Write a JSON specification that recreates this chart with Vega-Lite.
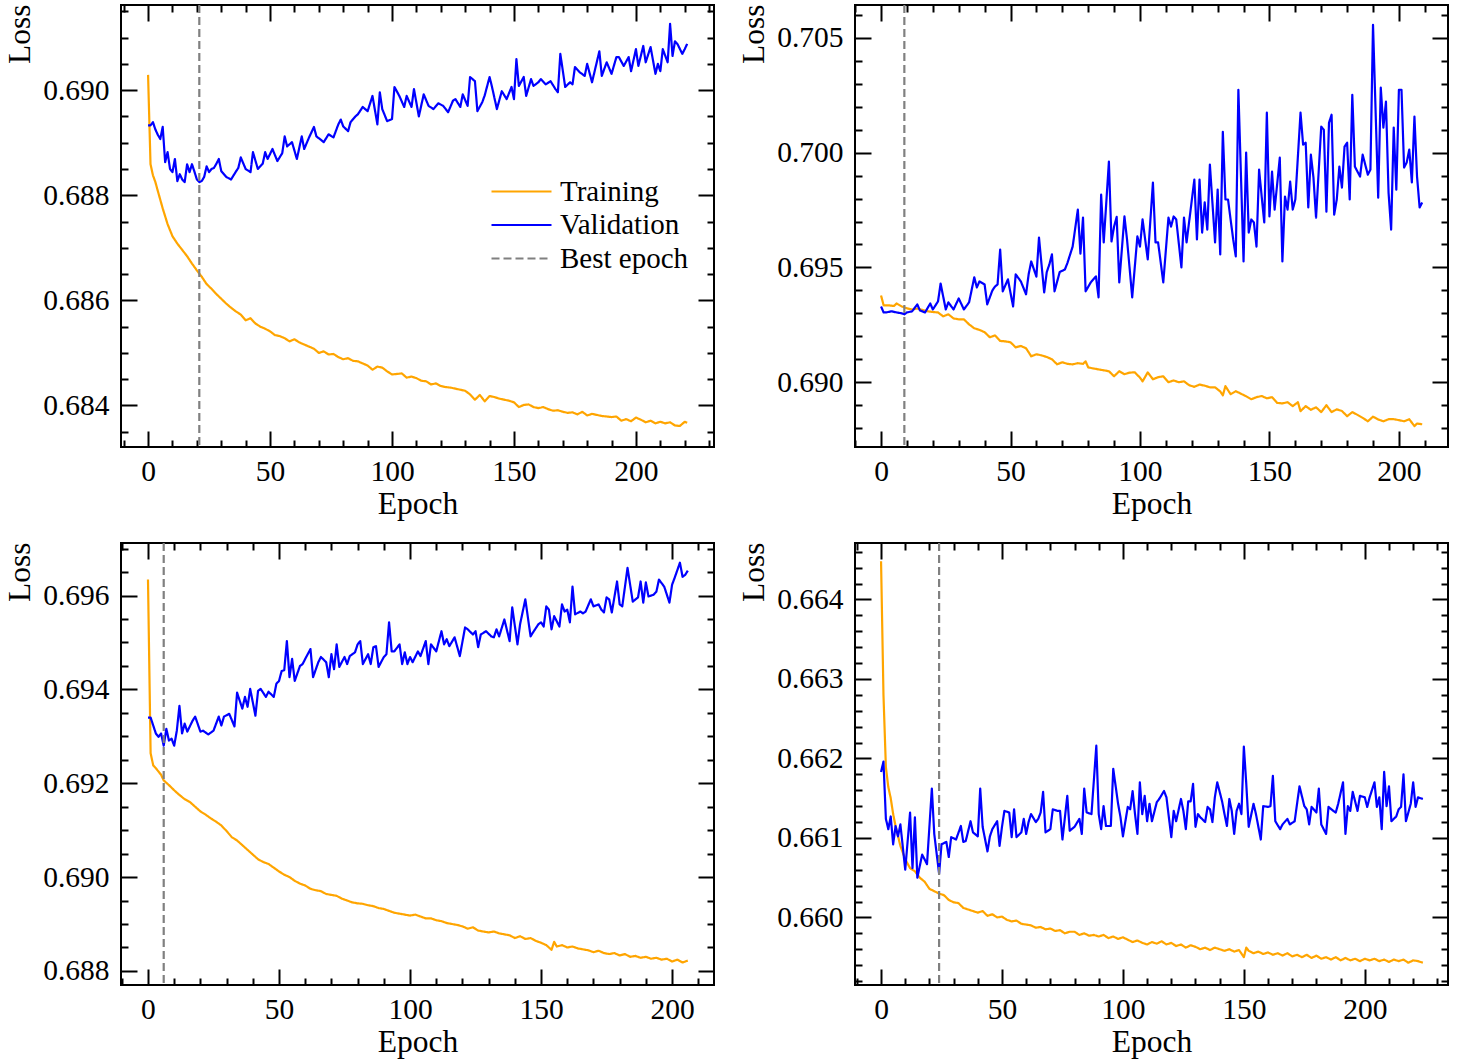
{
"$schema": "https://vega.github.io/schema/vega-lite/v6.json",
"background": "white",
"padding": {"left": 2, "top": 2, "right": 15, "bottom": 2},
"config": {
 "font": "Liberation Serif",
 "view": {"stroke": "black", "strokeWidth": 2},
 "axis": {"labelFont": "Liberation Serif", "labelFontSize": 29.5, "labelColor": "black", "titleFont": "Liberation Serif", "titleFontSize": 31.5, "titleFontWeight": "normal", "titleColor": "black", "tickColor": "black", "tickWidth": 2, "domain": false, "grid": false, "labelOverlap": false, "labelFlush": false, "labelBound": false},
 "legend": {"labelFont": "Liberation Serif", "labelFontSize": 29, "labelColor": "black"}
},
"datasets": {
"p1t": [{"e":0,"v":0.69029},{"e":1,"v":0.68859},{"e":2,"v":0.68838},{"e":3,"v":0.68825},{"e":4,"v":0.68808},{"e":6,"v":0.68775},{"e":8,"v":0.68745},{"e":10,"v":0.68722},{"e":12,"v":0.68708},{"e":14,"v":0.68696},{"e":16,"v":0.68684},{"e":18,"v":0.6867},{"e":20,"v":0.68657},{"e":22,"v":0.68645},{"e":24,"v":0.68631},{"e":26,"v":0.68622},{"e":28,"v":0.68612},{"e":30,"v":0.68603},{"e":32,"v":0.68594},{"e":34,"v":0.68586},{"e":36,"v":0.68579},{"e":38,"v":0.68573},{"e":40,"v":0.68562},{"e":42,"v":0.68566},{"e":44,"v":0.68556},{"e":46,"v":0.6855},{"e":48,"v":0.68546},{"e":50,"v":0.68541},{"e":52,"v":0.68534},{"e":54,"v":0.68532},{"e":56,"v":0.68528},{"e":58,"v":0.68522},{"e":60,"v":0.68526},{"e":62,"v":0.6852},{"e":64,"v":0.68516},{"e":66,"v":0.68512},{"e":68,"v":0.68508},{"e":70,"v":0.685},{"e":72,"v":0.68503},{"e":74,"v":0.68497},{"e":76,"v":0.68498},{"e":78,"v":0.68492},{"e":80,"v":0.68488},{"e":82,"v":0.6849},{"e":84,"v":0.68485},{"e":86,"v":0.68484},{"e":88,"v":0.6848},{"e":90,"v":0.68476},{"e":92,"v":0.68468},{"e":94,"v":0.68474},{"e":96,"v":0.68472},{"e":98,"v":0.68465},{"e":100,"v":0.68459},{"e":102,"v":0.6846},{"e":104,"v":0.68461},{"e":106,"v":0.68453},{"e":108,"v":0.68455},{"e":110,"v":0.68452},{"e":112,"v":0.68447},{"e":114,"v":0.68446},{"e":116,"v":0.6844},{"e":118,"v":0.68442},{"e":120,"v":0.68437},{"e":122,"v":0.68435},{"e":124,"v":0.68434},{"e":126,"v":0.68432},{"e":128,"v":0.6843},{"e":130,"v":0.68428},{"e":132,"v":0.68421},{"e":134,"v":0.68411},{"e":136,"v":0.6842},{"e":138,"v":0.68408},{"e":140,"v":0.68418},{"e":142,"v":0.68416},{"e":144,"v":0.68413},{"e":146,"v":0.68411},{"e":148,"v":0.68409},{"e":150,"v":0.68406},{"e":152,"v":0.68397},{"e":154,"v":0.68401},{"e":156,"v":0.68402},{"e":158,"v":0.68397},{"e":160,"v":0.68395},{"e":162,"v":0.68397},{"e":164,"v":0.68393},{"e":166,"v":0.6839},{"e":168,"v":0.68391},{"e":170,"v":0.68388},{"e":172,"v":0.68386},{"e":174,"v":0.68387},{"e":176,"v":0.68383},{"e":178,"v":0.68388},{"e":180,"v":0.68381},{"e":182,"v":0.68384},{"e":184,"v":0.68382},{"e":186,"v":0.6838},{"e":188,"v":0.68379},{"e":190,"v":0.68378},{"e":192,"v":0.68379},{"e":194,"v":0.68371},{"e":196,"v":0.68374},{"e":198,"v":0.6837},{"e":200,"v":0.68377},{"e":202,"v":0.68373},{"e":204,"v":0.68368},{"e":206,"v":0.68371},{"e":208,"v":0.68366},{"e":210,"v":0.68369},{"e":212,"v":0.68366},{"e":214,"v":0.68368},{"e":216,"v":0.68362},{"e":218,"v":0.68361},{"e":220,"v":0.68369},{"e":221,"v":0.68367}],
"p1v": [{"e":0,"v":0.68933},{"e":1,"v":0.68933},{"e":2,"v":0.68939},{"e":3,"v":0.68925},{"e":4,"v":0.68915},{"e":5,"v":0.68907},{"e":6,"v":0.6893},{"e":7,"v":0.68863},{"e":8,"v":0.68882},{"e":9,"v":0.6885},{"e":10,"v":0.68844},{"e":11,"v":0.68869},{"e":12,"v":0.68827},{"e":13,"v":0.6884},{"e":14,"v":0.6883},{"e":15,"v":0.68825},{"e":16,"v":0.68859},{"e":17,"v":0.68844},{"e":18,"v":0.68859},{"e":19,"v":0.68845},{"e":20,"v":0.6883},{"e":21,"v":0.68825},{"e":22,"v":0.68827},{"e":23,"v":0.68835},{"e":24,"v":0.68855},{"e":25,"v":0.68844},{"e":26,"v":0.6885},{"e":27,"v":0.68852},{"e":28,"v":0.6886},{"e":29,"v":0.68869},{"e":30,"v":0.68846},{"e":32,"v":0.68835},{"e":34,"v":0.6883},{"e":36,"v":0.68845},{"e":37,"v":0.68852},{"e":38,"v":0.68872},{"e":40,"v":0.6885},{"e":42,"v":0.68844},{"e":43,"v":0.68882},{"e":45,"v":0.6885},{"e":47,"v":0.6886},{"e":48,"v":0.68882},{"e":49,"v":0.68869},{"e":51,"v":0.68888},{"e":53,"v":0.68865},{"e":55,"v":0.6888},{"e":56,"v":0.68912},{"e":57,"v":0.68893},{"e":59,"v":0.68901},{"e":61,"v":0.68869},{"e":63,"v":0.68912},{"e":64,"v":0.68888},{"e":66,"v":0.6891},{"e":67,"v":0.6892},{"e":68,"v":0.6893},{"e":69,"v":0.68912},{"e":71,"v":0.68905},{"e":72,"v":0.68901},{"e":74,"v":0.68916},{"e":76,"v":0.6891},{"e":78,"v":0.68935},{"e":79,"v":0.68944},{"e":80,"v":0.68931},{"e":82,"v":0.68922},{"e":83,"v":0.68939},{"e":85,"v":0.6895},{"e":86,"v":0.68954},{"e":88,"v":0.68968},{"e":90,"v":0.6896},{"e":92,"v":0.68989},{"e":94,"v":0.68935},{"e":95,"v":0.68996},{"e":96,"v":0.68964},{"e":98,"v":0.68941},{"e":100,"v":0.68945},{"e":101,"v":0.69006},{"e":103,"v":0.68989},{"e":105,"v":0.68968},{"e":106,"v":0.68989},{"e":108,"v":0.68968},{"e":109,"v":0.69002},{"e":111,"v":0.6895},{"e":113,"v":0.68992},{"e":115,"v":0.6897},{"e":117,"v":0.68964},{"e":119,"v":0.68975},{"e":121,"v":0.6897},{"e":123,"v":0.68958},{"e":125,"v":0.6898},{"e":126,"v":0.68983},{"e":128,"v":0.68968},{"e":129,"v":0.68992},{"e":131,"v":0.6897},{"e":132,"v":0.69025},{"e":134,"v":0.69017},{"e":135,"v":0.6896},{"e":137,"v":0.68977},{"e":138,"v":0.6899},{"e":140,"v":0.69025},{"e":141,"v":0.69006},{"e":143,"v":0.68964},{"e":145,"v":0.68998},{"e":147,"v":0.68983},{"e":149,"v":0.69006},{"e":150,"v":0.68983},{"e":151,"v":0.69059},{"e":152,"v":0.69008},{"e":154,"v":0.69025},{"e":155,"v":0.68989},{"e":157,"v":0.69021},{"e":158,"v":0.69008},{"e":160,"v":0.69015},{"e":161,"v":0.69021},{"e":163,"v":0.69011},{"e":165,"v":0.69017},{"e":167,"v":0.69002},{"e":168,"v":0.68996},{"e":169,"v":0.69069},{"e":171,"v":0.69006},{"e":173,"v":0.69015},{"e":174,"v":0.69011},{"e":175,"v":0.69044},{"e":177,"v":0.69034},{"e":179,"v":0.69027},{"e":180,"v":0.6905},{"e":182,"v":0.69015},{"e":185,"v":0.69074},{"e":186,"v":0.69027},{"e":188,"v":0.69053},{"e":190,"v":0.69031},{"e":192,"v":0.69063},{"e":193,"v":0.69063},{"e":195,"v":0.69046},{"e":197,"v":0.69063},{"e":198,"v":0.69036},{"e":200,"v":0.69078},{"e":201,"v":0.69046},{"e":203,"v":0.69084},{"e":204,"v":0.69053},{"e":206,"v":0.69082},{"e":208,"v":0.69031},{"e":209,"v":0.6905},{"e":210,"v":0.69036},{"e":211,"v":0.69078},{"e":213,"v":0.69053},{"e":214,"v":0.69126},{"e":215,"v":0.69065},{"e":216,"v":0.69093},{"e":217,"v":0.69088},{"e":219,"v":0.69069},{"e":220,"v":0.69078},{"e":221,"v":0.69088}],
"p2t": [{"e":0,"v":0.69378},{"e":1,"v":0.69335},{"e":3,"v":0.69335},{"e":5,"v":0.69332},{"e":6,"v":0.69343},{"e":8,"v":0.6933},{"e":10,"v":0.69322},{"e":12,"v":0.69317},{"e":14,"v":0.69321},{"e":16,"v":0.69315},{"e":18,"v":0.69309},{"e":20,"v":0.69306},{"e":22,"v":0.69304},{"e":24,"v":0.69287},{"e":26,"v":0.69296},{"e":28,"v":0.69278},{"e":30,"v":0.69274},{"e":32,"v":0.69274},{"e":34,"v":0.69252},{"e":36,"v":0.69235},{"e":38,"v":0.69228},{"e":40,"v":0.69218},{"e":42,"v":0.69196},{"e":44,"v":0.69204},{"e":46,"v":0.6918},{"e":48,"v":0.69178},{"e":50,"v":0.69174},{"e":52,"v":0.69152},{"e":54,"v":0.69158},{"e":56,"v":0.69148},{"e":58,"v":0.69113},{"e":60,"v":0.69122},{"e":62,"v":0.69117},{"e":64,"v":0.6911},{"e":66,"v":0.691},{"e":68,"v":0.69078},{"e":70,"v":0.69087},{"e":72,"v":0.6908},{"e":74,"v":0.69078},{"e":76,"v":0.69083},{"e":78,"v":0.6908},{"e":79,"v":0.69091},{"e":80,"v":0.69065},{"e":82,"v":0.6906},{"e":84,"v":0.69056},{"e":86,"v":0.69052},{"e":88,"v":0.69048},{"e":90,"v":0.69026},{"e":92,"v":0.69048},{"e":94,"v":0.69035},{"e":96,"v":0.69042},{"e":98,"v":0.69043},{"e":100,"v":0.6902},{"e":101,"v":0.69004},{"e":103,"v":0.69043},{"e":105,"v":0.69013},{"e":107,"v":0.69022},{"e":109,"v":0.69026},{"e":111,"v":0.69},{"e":113,"v":0.69008},{"e":115,"v":0.69},{"e":117,"v":0.69004},{"e":119,"v":0.68987},{"e":121,"v":0.6898},{"e":123,"v":0.6899},{"e":125,"v":0.68985},{"e":127,"v":0.68978},{"e":129,"v":0.68978},{"e":131,"v":0.6896},{"e":132,"v":0.68943},{"e":133,"v":0.68983},{"e":135,"v":0.68948},{"e":137,"v":0.68961},{"e":139,"v":0.6895},{"e":141,"v":0.68939},{"e":143,"v":0.68926},{"e":145,"v":0.68935},{"e":147,"v":0.6894},{"e":149,"v":0.6893},{"e":151,"v":0.68935},{"e":153,"v":0.6891},{"e":155,"v":0.68908},{"e":157,"v":0.68913},{"e":159,"v":0.68896},{"e":161,"v":0.68913},{"e":162,"v":0.68874},{"e":164,"v":0.68896},{"e":166,"v":0.6888},{"e":168,"v":0.68891},{"e":170,"v":0.6887},{"e":172,"v":0.689},{"e":174,"v":0.6887},{"e":176,"v":0.68882},{"e":178,"v":0.68875},{"e":180,"v":0.68852},{"e":182,"v":0.6887},{"e":184,"v":0.68858},{"e":186,"v":0.68845},{"e":188,"v":0.6883},{"e":190,"v":0.6885},{"e":192,"v":0.68838},{"e":194,"v":0.6883},{"e":196,"v":0.68839},{"e":198,"v":0.68839},{"e":200,"v":0.68835},{"e":202,"v":0.6883},{"e":204,"v":0.68839},{"e":206,"v":0.68809},{"e":207,"v":0.6882},{"e":209,"v":0.68817}],
"p2v": [{"e":0,"v":0.6933},{"e":1,"v":0.69304},{"e":2,"v":0.69304},{"e":4,"v":0.69309},{"e":6,"v":0.69304},{"e":8,"v":0.693},{"e":9,"v":0.69296},{"e":10,"v":0.69304},{"e":12,"v":0.69309},{"e":14,"v":0.69339},{"e":15,"v":0.69313},{"e":17,"v":0.69304},{"e":19,"v":0.69343},{"e":20,"v":0.69317},{"e":22,"v":0.69352},{"e":23,"v":0.6943},{"e":25,"v":0.69317},{"e":26,"v":0.69348},{"e":28,"v":0.69317},{"e":30,"v":0.69365},{"e":32,"v":0.69317},{"e":34,"v":0.69348},{"e":36,"v":0.69457},{"e":37,"v":0.69413},{"e":38,"v":0.69439},{"e":40,"v":0.69426},{"e":41,"v":0.69339},{"e":43,"v":0.694},{"e":44,"v":0.69417},{"e":45,"v":0.69426},{"e":46,"v":0.69578},{"e":47,"v":0.69396},{"e":49,"v":0.69448},{"e":51,"v":0.6933},{"e":52,"v":0.6947},{"e":54,"v":0.69439},{"e":56,"v":0.69383},{"e":57,"v":0.6947},{"e":58,"v":0.69526},{"e":60,"v":0.6946},{"e":61,"v":0.6963},{"e":63,"v":0.69391},{"e":64,"v":0.6948},{"e":65,"v":0.69513},{"e":66,"v":0.69557},{"e":67,"v":0.69396},{"e":69,"v":0.6948},{"e":71,"v":0.69491},{"e":72,"v":0.6952},{"e":74,"v":0.69591},{"e":76,"v":0.69752},{"e":77,"v":0.6956},{"e":78,"v":0.69717},{"e":79,"v":0.69396},{"e":81,"v":0.69435},{"e":83,"v":0.69461},{"e":84,"v":0.6937},{"e":85,"v":0.69817},{"e":86,"v":0.69609},{"e":88,"v":0.69961},{"e":89,"v":0.69613},{"e":90,"v":0.69678},{"e":91,"v":0.6972},{"e":92,"v":0.69435},{"e":94,"v":0.69722},{"e":95,"v":0.69622},{"e":97,"v":0.6937},{"e":99,"v":0.69635},{"e":100,"v":0.69591},{"e":101,"v":0.69709},{"e":103,"v":0.69535},{"e":105,"v":0.6987},{"e":106,"v":0.69609},{"e":107,"v":0.69609},{"e":109,"v":0.69435},{"e":111,"v":0.69717},{"e":112,"v":0.69678},{"e":113,"v":0.69722},{"e":114,"v":0.69709},{"e":116,"v":0.695},{"e":117,"v":0.69717},{"e":118,"v":0.69609},{"e":121,"v":0.69883},{"e":122,"v":0.69622},{"e":123,"v":0.69883},{"e":124,"v":0.69652},{"e":125,"v":0.69783},{"e":126,"v":0.69665},{"e":127,"v":0.69948},{"e":129,"v":0.69609},{"e":130,"v":0.69839},{"e":131,"v":0.69557},{"e":132,"v":0.70091},{"e":133,"v":0.69796},{"e":134,"v":0.69796},{"e":136,"v":0.69622},{"e":137,"v":0.69548},{"e":138,"v":0.70274},{"e":140,"v":0.69526},{"e":141,"v":0.7},{"e":142,"v":0.69652},{"e":143,"v":0.69709},{"e":144,"v":0.69696},{"e":145,"v":0.69591},{"e":146,"v":0.69926},{"e":147,"v":0.69809},{"e":148,"v":0.69696},{"e":149,"v":0.70174},{"e":150,"v":0.69722},{"e":151,"v":0.69917},{"e":152,"v":0.69752},{"e":154,"v":0.69978},{"e":155,"v":0.69526},{"e":156,"v":0.69809},{"e":157,"v":0.69752},{"e":158,"v":0.69874},{"e":159,"v":0.69752},{"e":160,"v":0.69796},{"e":162,"v":0.70174},{"e":163,"v":0.70035},{"e":164,"v":0.70043},{"e":165,"v":0.69761},{"e":166,"v":0.69991},{"e":167,"v":0.69891},{"e":168,"v":0.69717},{"e":170,"v":0.70113},{"e":171,"v":0.701},{"e":172,"v":0.69743},{"e":173,"v":0.7013},{"e":174,"v":0.70165},{"e":175,"v":0.6973},{"e":176,"v":0.69796},{"e":177,"v":0.69939},{"e":178,"v":0.69848},{"e":179,"v":0.70026},{"e":180,"v":0.70043},{"e":181,"v":0.69796},{"e":182,"v":0.70252},{"e":183,"v":0.69939},{"e":185,"v":0.69896},{"e":186,"v":0.69991},{"e":188,"v":0.69904},{"e":189,"v":0.69926},{"e":190,"v":0.70557},{"e":192,"v":0.69804},{"e":193,"v":0.70283},{"e":194,"v":0.70109},{"e":195,"v":0.70222},{"e":196,"v":0.69826},{"e":197,"v":0.69665},{"e":198,"v":0.70109},{"e":199,"v":0.69839},{"e":200,"v":0.70274},{"e":201,"v":0.70274},{"e":202,"v":0.69935},{"e":203,"v":0.69957},{"e":204,"v":0.70013},{"e":205,"v":0.6987},{"e":206,"v":0.70157},{"e":207,"v":0.69896},{"e":208,"v":0.69761},{"e":209,"v":0.69783}],
"p3t": [{"e":0,"v":0.69634},{"e":1,"v":0.69264},{"e":2,"v":0.69238},{"e":3,"v":0.69232},{"e":4,"v":0.69225},{"e":5,"v":0.69218},{"e":6,"v":0.69206},{"e":8,"v":0.69196},{"e":10,"v":0.69185},{"e":12,"v":0.69175},{"e":14,"v":0.69166},{"e":16,"v":0.6916},{"e":18,"v":0.6915},{"e":20,"v":0.6914},{"e":22,"v":0.69133},{"e":24,"v":0.69125},{"e":26,"v":0.69118},{"e":28,"v":0.6911},{"e":30,"v":0.69098},{"e":32,"v":0.69085},{"e":34,"v":0.69078},{"e":36,"v":0.69068},{"e":38,"v":0.69058},{"e":40,"v":0.69048},{"e":42,"v":0.69038},{"e":44,"v":0.69032},{"e":46,"v":0.69028},{"e":48,"v":0.6902},{"e":50,"v":0.69012},{"e":52,"v":0.69005},{"e":54,"v":0.69},{"e":56,"v":0.68992},{"e":58,"v":0.68986},{"e":60,"v":0.68982},{"e":62,"v":0.68975},{"e":64,"v":0.68972},{"e":66,"v":0.6897},{"e":68,"v":0.68964},{"e":70,"v":0.68962},{"e":72,"v":0.6896},{"e":74,"v":0.68954},{"e":76,"v":0.6895},{"e":78,"v":0.68946},{"e":80,"v":0.68944},{"e":82,"v":0.68943},{"e":84,"v":0.6894},{"e":86,"v":0.68938},{"e":88,"v":0.68934},{"e":90,"v":0.68932},{"e":92,"v":0.68928},{"e":94,"v":0.68924},{"e":96,"v":0.68922},{"e":98,"v":0.6892},{"e":100,"v":0.68918},{"e":102,"v":0.6892},{"e":104,"v":0.68916},{"e":106,"v":0.68912},{"e":108,"v":0.68912},{"e":110,"v":0.68908},{"e":112,"v":0.68906},{"e":114,"v":0.68902},{"e":116,"v":0.689},{"e":118,"v":0.68898},{"e":120,"v":0.68895},{"e":122,"v":0.6889},{"e":124,"v":0.68893},{"e":126,"v":0.68886},{"e":128,"v":0.68884},{"e":130,"v":0.68882},{"e":132,"v":0.68884},{"e":134,"v":0.6888},{"e":136,"v":0.68878},{"e":138,"v":0.68876},{"e":140,"v":0.6887},{"e":142,"v":0.68874},{"e":144,"v":0.68868},{"e":146,"v":0.6887},{"e":148,"v":0.68864},{"e":150,"v":0.6886},{"e":152,"v":0.68855},{"e":154,"v":0.68845},{"e":155,"v":0.68862},{"e":156,"v":0.68852},{"e":158,"v":0.68855},{"e":160,"v":0.6885},{"e":162,"v":0.68852},{"e":164,"v":0.68848},{"e":166,"v":0.68846},{"e":168,"v":0.68844},{"e":170,"v":0.6884},{"e":172,"v":0.68843},{"e":174,"v":0.68838},{"e":176,"v":0.68836},{"e":178,"v":0.68838},{"e":180,"v":0.68833},{"e":182,"v":0.68836},{"e":184,"v":0.6883},{"e":186,"v":0.68832},{"e":188,"v":0.68828},{"e":190,"v":0.6883},{"e":192,"v":0.68826},{"e":194,"v":0.68828},{"e":196,"v":0.68824},{"e":198,"v":0.68826},{"e":200,"v":0.6882},{"e":202,"v":0.68824},{"e":204,"v":0.68818},{"e":206,"v":0.68822}],
"p3v": [{"e":0,"v":0.6934},{"e":1,"v":0.6934},{"e":3,"v":0.69306},{"e":4,"v":0.69299},{"e":5,"v":0.69306},{"e":6,"v":0.6928},{"e":7,"v":0.69316},{"e":8,"v":0.69291},{"e":9,"v":0.69295},{"e":10,"v":0.6928},{"e":11,"v":0.69312},{"e":12,"v":0.69365},{"e":13,"v":0.69306},{"e":14,"v":0.69327},{"e":15,"v":0.6931},{"e":17,"v":0.69333},{"e":18,"v":0.69342},{"e":20,"v":0.6931},{"e":21,"v":0.69312},{"e":23,"v":0.69304},{"e":25,"v":0.69312},{"e":27,"v":0.69342},{"e":28,"v":0.69323},{"e":29,"v":0.69342},{"e":31,"v":0.69348},{"e":33,"v":0.69321},{"e":34,"v":0.69393},{"e":36,"v":0.69359},{"e":37,"v":0.69384},{"e":38,"v":0.69363},{"e":39,"v":0.69401},{"e":41,"v":0.69344},{"e":42,"v":0.69397},{"e":43,"v":0.69401},{"e":45,"v":0.69384},{"e":46,"v":0.69395},{"e":48,"v":0.69384},{"e":49,"v":0.69412},{"e":50,"v":0.69418},{"e":51,"v":0.69439},{"e":52,"v":0.69441},{"e":53,"v":0.69503},{"e":54,"v":0.69426},{"e":55,"v":0.69465},{"e":56,"v":0.69418},{"e":58,"v":0.6945},{"e":59,"v":0.69454},{"e":60,"v":0.69465},{"e":62,"v":0.69486},{"e":63,"v":0.69426},{"e":65,"v":0.69458},{"e":66,"v":0.69469},{"e":68,"v":0.69458},{"e":69,"v":0.69426},{"e":70,"v":0.69475},{"e":71,"v":0.69443},{"e":72,"v":0.69496},{"e":73,"v":0.69448},{"e":75,"v":0.69469},{"e":76,"v":0.69454},{"e":77,"v":0.69471},{"e":79,"v":0.69479},{"e":80,"v":0.69496},{"e":81,"v":0.69503},{"e":82,"v":0.69454},{"e":84,"v":0.69475},{"e":85,"v":0.69454},{"e":86,"v":0.6949},{"e":87,"v":0.69492},{"e":88,"v":0.69448},{"e":90,"v":0.69469},{"e":91,"v":0.69475},{"e":92,"v":0.69543},{"e":93,"v":0.69481},{"e":94,"v":0.69481},{"e":96,"v":0.69496},{"e":97,"v":0.69454},{"e":98,"v":0.69479},{"e":99,"v":0.69454},{"e":100,"v":0.69469},{"e":101,"v":0.69458},{"e":103,"v":0.69481},{"e":104,"v":0.69471},{"e":106,"v":0.69503},{"e":107,"v":0.69454},{"e":108,"v":0.69496},{"e":110,"v":0.69481},{"e":112,"v":0.69524},{"e":113,"v":0.69496},{"e":114,"v":0.69507},{"e":115,"v":0.69492},{"e":117,"v":0.69511},{"e":119,"v":0.69471},{"e":121,"v":0.69532},{"e":122,"v":0.69528},{"e":124,"v":0.69517},{"e":125,"v":0.69524},{"e":126,"v":0.6949},{"e":127,"v":0.69517},{"e":129,"v":0.69524},{"e":131,"v":0.69513},{"e":132,"v":0.69511},{"e":133,"v":0.69528},{"e":134,"v":0.69513},{"e":136,"v":0.69549},{"e":138,"v":0.69503},{"e":139,"v":0.69575},{"e":141,"v":0.69496},{"e":142,"v":0.69539},{"e":144,"v":0.69592},{"e":146,"v":0.69513},{"e":147,"v":0.69522},{"e":149,"v":0.69539},{"e":150,"v":0.69543},{"e":151,"v":0.69534},{"e":152,"v":0.69577},{"e":153,"v":0.6957},{"e":154,"v":0.69528},{"e":155,"v":0.69556},{"e":157,"v":0.69534},{"e":158,"v":0.69581},{"e":159,"v":0.69566},{"e":160,"v":0.6957},{"e":161,"v":0.69543},{"e":162,"v":0.69619},{"e":163,"v":0.6956},{"e":165,"v":0.69566},{"e":166,"v":0.69562},{"e":167,"v":0.69566},{"e":169,"v":0.69592},{"e":170,"v":0.69577},{"e":172,"v":0.69581},{"e":173,"v":0.6957},{"e":174,"v":0.69564},{"e":175,"v":0.69596},{"e":176,"v":0.69592},{"e":177,"v":0.69564},{"e":179,"v":0.6963},{"e":180,"v":0.69581},{"e":181,"v":0.69577},{"e":183,"v":0.69659},{"e":185,"v":0.69587},{"e":187,"v":0.69596},{"e":188,"v":0.6963},{"e":189,"v":0.69585},{"e":190,"v":0.69628},{"e":191,"v":0.69598},{"e":193,"v":0.69602},{"e":194,"v":0.69608},{"e":195,"v":0.69634},{"e":197,"v":0.69619},{"e":199,"v":0.69585},{"e":200,"v":0.69623},{"e":201,"v":0.69638},{"e":203,"v":0.6967},{"e":204,"v":0.6964},{"e":205,"v":0.69644},{"e":206,"v":0.69653}],
"p4t": [{"e":0,"v":0.66448},{"e":1,"v":0.6628},{"e":2,"v":0.66189},{"e":3,"v":0.66164},{"e":4,"v":0.6615},{"e":5,"v":0.6613},{"e":6,"v":0.66115},{"e":8,"v":0.6609},{"e":10,"v":0.66073},{"e":12,"v":0.66062},{"e":14,"v":0.66058},{"e":16,"v":0.6605},{"e":18,"v":0.66045},{"e":20,"v":0.66036},{"e":22,"v":0.66033},{"e":24,"v":0.6603},{"e":26,"v":0.66028},{"e":28,"v":0.66022},{"e":30,"v":0.66019},{"e":32,"v":0.66018},{"e":34,"v":0.66012},{"e":36,"v":0.6601},{"e":38,"v":0.66008},{"e":40,"v":0.66006},{"e":42,"v":0.66008},{"e":44,"v":0.66002},{"e":46,"v":0.66004},{"e":48,"v":0.66},{"e":50,"v":0.66001},{"e":52,"v":0.65997},{"e":54,"v":0.65995},{"e":56,"v":0.65996},{"e":58,"v":0.65992},{"e":60,"v":0.65991},{"e":62,"v":0.6599},{"e":64,"v":0.65987},{"e":66,"v":0.65988},{"e":68,"v":0.65985},{"e":70,"v":0.65986},{"e":72,"v":0.65983},{"e":74,"v":0.65984},{"e":76,"v":0.6598},{"e":78,"v":0.65982},{"e":80,"v":0.65982},{"e":82,"v":0.65978},{"e":84,"v":0.6598},{"e":86,"v":0.65977},{"e":88,"v":0.65978},{"e":90,"v":0.65976},{"e":92,"v":0.65978},{"e":94,"v":0.65974},{"e":96,"v":0.65976},{"e":98,"v":0.65973},{"e":100,"v":0.65975},{"e":102,"v":0.65972},{"e":104,"v":0.65969},{"e":106,"v":0.65971},{"e":108,"v":0.65968},{"e":110,"v":0.65966},{"e":112,"v":0.65969},{"e":114,"v":0.65967},{"e":116,"v":0.6597},{"e":118,"v":0.65966},{"e":120,"v":0.65968},{"e":122,"v":0.65964},{"e":124,"v":0.65966},{"e":126,"v":0.65962},{"e":128,"v":0.65965},{"e":130,"v":0.65963},{"e":132,"v":0.6596},{"e":134,"v":0.65962},{"e":136,"v":0.65959},{"e":138,"v":0.65962},{"e":140,"v":0.6596},{"e":142,"v":0.65958},{"e":144,"v":0.6596},{"e":146,"v":0.65957},{"e":148,"v":0.65959},{"e":150,"v":0.6595},{"e":151,"v":0.65962},{"e":152,"v":0.65958},{"e":154,"v":0.65955},{"e":156,"v":0.65957},{"e":158,"v":0.65954},{"e":160,"v":0.65956},{"e":162,"v":0.65953},{"e":164,"v":0.65955},{"e":166,"v":0.65952},{"e":168,"v":0.65955},{"e":170,"v":0.65951},{"e":172,"v":0.65953},{"e":174,"v":0.6595},{"e":176,"v":0.65953},{"e":178,"v":0.65949},{"e":180,"v":0.65952},{"e":182,"v":0.65948},{"e":184,"v":0.6595},{"e":186,"v":0.65947},{"e":188,"v":0.6595},{"e":190,"v":0.65946},{"e":192,"v":0.65949},{"e":194,"v":0.65946},{"e":196,"v":0.65948},{"e":198,"v":0.65945},{"e":200,"v":0.65948},{"e":202,"v":0.65946},{"e":204,"v":0.65948},{"e":206,"v":0.65945},{"e":208,"v":0.65947},{"e":210,"v":0.65944},{"e":212,"v":0.65947},{"e":214,"v":0.65945},{"e":216,"v":0.65947},{"e":218,"v":0.65943},{"e":220,"v":0.65946},{"e":222,"v":0.65945},{"e":224,"v":0.65943}],
"p4v": [{"e":0,"v":0.66183},{"e":1,"v":0.66196},{"e":2,"v":0.66124},{"e":3,"v":0.66111},{"e":4,"v":0.66127},{"e":5,"v":0.66092},{"e":6,"v":0.66115},{"e":7,"v":0.66102},{"e":8,"v":0.66117},{"e":10,"v":0.6606},{"e":12,"v":0.66132},{"e":13,"v":0.66062},{"e":14,"v":0.66126},{"e":15,"v":0.6605},{"e":17,"v":0.66079},{"e":19,"v":0.66067},{"e":21,"v":0.66162},{"e":22,"v":0.66105},{"e":24,"v":0.66055},{"e":25,"v":0.66092},{"e":27,"v":0.66095},{"e":28,"v":0.66076},{"e":29,"v":0.66101},{"e":31,"v":0.66098},{"e":33,"v":0.66115},{"e":34,"v":0.66095},{"e":35,"v":0.66096},{"e":37,"v":0.66121},{"e":38,"v":0.66107},{"e":40,"v":0.66102},{"e":41,"v":0.66162},{"e":42,"v":0.66114},{"e":44,"v":0.66083},{"e":45,"v":0.66102},{"e":46,"v":0.66111},{"e":48,"v":0.66121},{"e":49,"v":0.6609},{"e":50,"v":0.66114},{"e":51,"v":0.66134},{"e":53,"v":0.66132},{"e":54,"v":0.66101},{"e":55,"v":0.66136},{"e":56,"v":0.66101},{"e":58,"v":0.66107},{"e":59,"v":0.66124},{"e":60,"v":0.66105},{"e":61,"v":0.6612},{"e":62,"v":0.6613},{"e":64,"v":0.6612},{"e":65,"v":0.66124},{"e":66,"v":0.66132},{"e":67,"v":0.66158},{"e":68,"v":0.66107},{"e":70,"v":0.66111},{"e":71,"v":0.66136},{"e":73,"v":0.66134},{"e":74,"v":0.66134},{"e":75,"v":0.66098},{"e":77,"v":0.66153},{"e":78,"v":0.66109},{"e":80,"v":0.66114},{"e":82,"v":0.66124},{"e":83,"v":0.66105},{"e":84,"v":0.66162},{"e":85,"v":0.66132},{"e":87,"v":0.6613},{"e":89,"v":0.66216},{"e":90,"v":0.6613},{"e":91,"v":0.66111},{"e":92,"v":0.6614},{"e":93,"v":0.66115},{"e":95,"v":0.66115},{"e":96,"v":0.66187},{"e":98,"v":0.66143},{"e":99,"v":0.66126},{"e":100,"v":0.66102},{"e":102,"v":0.66139},{"e":103,"v":0.66136},{"e":104,"v":0.66159},{"e":105,"v":0.6613},{"e":106,"v":0.66105},{"e":107,"v":0.6617},{"e":108,"v":0.6613},{"e":109,"v":0.66153},{"e":110,"v":0.66121},{"e":111,"v":0.66143},{"e":112,"v":0.66121},{"e":114,"v":0.66145},{"e":115,"v":0.66149},{"e":117,"v":0.66159},{"e":118,"v":0.66151},{"e":120,"v":0.66101},{"e":121,"v":0.66134},{"e":122,"v":0.66121},{"e":124,"v":0.66149},{"e":125,"v":0.66134},{"e":126,"v":0.66111},{"e":127,"v":0.66146},{"e":128,"v":0.66146},{"e":129,"v":0.66168},{"e":130,"v":0.66114},{"e":131,"v":0.6613},{"e":132,"v":0.66126},{"e":134,"v":0.6612},{"e":135,"v":0.66139},{"e":136,"v":0.66136},{"e":137,"v":0.6612},{"e":138,"v":0.66151},{"e":139,"v":0.6617},{"e":141,"v":0.66146},{"e":142,"v":0.6613},{"e":143,"v":0.66115},{"e":144,"v":0.66149},{"e":145,"v":0.66134},{"e":146,"v":0.66105},{"e":147,"v":0.66134},{"e":148,"v":0.66143},{"e":149,"v":0.6613},{"e":150,"v":0.66215},{"e":151,"v":0.66168},{"e":152,"v":0.66114},{"e":154,"v":0.66143},{"e":155,"v":0.6613},{"e":157,"v":0.66098},{"e":158,"v":0.6614},{"e":160,"v":0.66139},{"e":161,"v":0.6614},{"e":162,"v":0.66178},{"e":163,"v":0.66121},{"e":165,"v":0.66111},{"e":166,"v":0.66117},{"e":168,"v":0.66124},{"e":169,"v":0.66117},{"e":171,"v":0.66121},{"e":172,"v":0.66143},{"e":173,"v":0.66165},{"e":175,"v":0.6614},{"e":176,"v":0.66136},{"e":177,"v":0.66117},{"e":178,"v":0.66139},{"e":180,"v":0.66132},{"e":181,"v":0.66162},{"e":182,"v":0.66117},{"e":184,"v":0.66105},{"e":185,"v":0.66139},{"e":187,"v":0.66134},{"e":188,"v":0.66132},{"e":189,"v":0.66143},{"e":191,"v":0.6617},{"e":192,"v":0.66105},{"e":193,"v":0.6614},{"e":194,"v":0.66134},{"e":195,"v":0.66158},{"e":197,"v":0.66134},{"e":198,"v":0.66153},{"e":200,"v":0.66151},{"e":201,"v":0.66139},{"e":202,"v":0.66151},{"e":204,"v":0.6617},{"e":205,"v":0.66139},{"e":206,"v":0.66151},{"e":207,"v":0.66111},{"e":208,"v":0.66183},{"e":209,"v":0.6614},{"e":210,"v":0.66165},{"e":211,"v":0.66121},{"e":213,"v":0.66127},{"e":214,"v":0.66136},{"e":215,"v":0.66139},{"e":216,"v":0.6618},{"e":217,"v":0.66121},{"e":219,"v":0.66143},{"e":220,"v":0.6617},{"e":221,"v":0.66139},{"e":222,"v":0.66151},{"e":224,"v":0.66149}]
},
"columns": 2,
"spacing": {"row": 96, "column": 141},
"bounds": "flush",
"concat": [
{
 "width": 593, "height": 442,
 "layer": [
  {"layer": [
   {"data": {"name": "p1t"}, "mark": {"type": "line", "strokeWidth": 2.2, "strokeJoin": "round"},
    "encoding": {
     "x": {"field": "e", "type": "quantitative", "scale": {"domain": [-11.1, 232], "nice": false, "zero": false}, "axis": {"orient": "bottom", "values": [0,50,100,150,200], "format": "d", "labelOverlap": false, "labelFont": "Liberation Serif", "tickSize": -16, "labelPadding": 49, "labelBaseline": "alphabetic", "title": "Epoch", "titleY": 66, "titleBaseline": "alphabetic"}},
     "y": {"field": "v", "type": "quantitative", "scale": {"domain": [0.68321, 0.69162], "nice": false, "zero": false}, "axis": {"orient": "left", "values": [0.684,0.686,0.688,0.69], "format": ".3f", "labelOverlap": false, "labelFont": "Liberation Serif", "tickSize": -16, "labelPadding": 28, "labelBaseline": "middle", "title": "Loss", "titleAngle": -90, "titleX": -92, "titleY": -1, "titleAlign": "right", "titleBaseline": "alphabetic"}},
     "color": {"datum": "Training", "type": "nominal", "scale": {"domain": ["Training", "Validation", "Best epoch"], "range": ["#FFA500", "#0000FF", "#808080"]}, "legend": {"title": null, "orient": "none", "legendX": 384, "legendY": 170, "symbolType": "M-2,0H2", "symbolSize": 900, "symbolStrokeWidth": 2.2, "labelOffset": 22, "rowPadding": 1.5, "padding": 0, "labelFontSize": 29, "labelFont": "Liberation Serif"}},
     "strokeDash": {"datum": "Training", "type": "nominal", "scale": {"domain": ["Training", "Validation", "Best epoch"], "range": [[1,0],[1,0],[8,4]]}, "legend": {"title": null, "orient": "none", "legendX": 384, "legendY": 170, "symbolType": "M-2,0H2", "symbolSize": 900, "symbolStrokeWidth": 2.2, "labelOffset": 22, "rowPadding": 1.5, "padding": 0, "labelFontSize": 29, "labelFont": "Liberation Serif"}}
    }},
   {"data": {"name": "p1v"}, "mark": {"type": "line", "strokeWidth": 2.2, "strokeJoin": "round"},
    "encoding": {"x": {"field": "e", "type": "quantitative"}, "y": {"field": "v", "type": "quantitative"}, "color": {"datum": "Validation", "type": "nominal"}, "strokeDash": {"datum": "Validation", "type": "nominal"}}},
   {"data": {"values": [{"e": 21}]}, "mark": {"type": "rule", "strokeWidth": 2.2},
    "encoding": {"x": {"field": "e", "type": "quantitative"}, "color": {"datum": "Best epoch", "type": "nominal"}, "strokeDash": {"datum": "Best epoch", "type": "nominal"}}}
  ]},
  {"data": {"values": [{"e": 0, "v": 0.686}]}, "mark": {"type": "point", "opacity": 0},
   "encoding": {
    "x": {"field": "e", "type": "quantitative", "scale": {"domain": [-11.1, 232], "nice": false, "zero": false}, "axis": {"orient": "top", "values": [0,50,100,150,200], "labels": false, "title": null, "tickSize": -16}},
    "y": {"field": "v", "type": "quantitative", "scale": {"domain": [0.68321, 0.69162], "nice": false, "zero": false}, "axis": {"orient": "right", "values": [0.684,0.686,0.688,0.69], "labels": false, "title": null, "tickSize": -16}}}},
  {"data": {"values": [{"e": 0, "v": 0.686}]}, "mark": {"type": "point", "opacity": 0},
   "encoding": {
    "x": {"field": "e", "type": "quantitative", "scale": {"domain": [-11.1, 232], "nice": false, "zero": false}, "axis": {"orient": "bottom", "values": [-10,10,20,30,40,60,70,80,90,110,120,130,140,160,170,180,190,210,220,230], "labels": false, "title": null, "tickSize": -7}},
    "y": {"field": "v", "type": "quantitative", "scale": {"domain": [0.68321, 0.69162], "nice": false, "zero": false}, "axis": {"orient": "left", "values": [0.6835,0.6845,0.685,0.6855,0.6865,0.687,0.6875,0.6885,0.689,0.6895,0.6905,0.691,0.6915], "labels": false, "title": null, "tickSize": -7}}}},
  {"data": {"values": [{"e": 0, "v": 0.686}]}, "mark": {"type": "point", "opacity": 0},
   "encoding": {
    "x": {"field": "e", "type": "quantitative", "scale": {"domain": [-11.1, 232], "nice": false, "zero": false}, "axis": {"orient": "top", "values": [-10,10,20,30,40,60,70,80,90,110,120,130,140,160,170,180,190,210,220,230], "labels": false, "title": null, "tickSize": -7}},
    "y": {"field": "v", "type": "quantitative", "scale": {"domain": [0.68321, 0.69162], "nice": false, "zero": false}, "axis": {"orient": "right", "values": [0.6835,0.6845,0.685,0.6855,0.6865,0.687,0.6875,0.6885,0.689,0.6895,0.6905,0.691,0.6915], "labels": false, "title": null, "tickSize": -7}}}}
 ],
 "resolve": {"axis": {"x": "independent", "y": "independent"}}
},
{
 "width": 593, "height": 442,
 "layer": [
  {"layer": [
   {"data": {"name": "p2t"}, "mark": {"type": "line", "strokeWidth": 2.2, "strokeJoin": "round"},
    "encoding": {
     "x": {"field": "e", "type": "quantitative", "scale": {"domain": [-10.06, 218.96], "nice": false, "zero": false}, "axis": {"orient": "bottom", "values": [0,50,100,150,200], "format": "d", "labelOverlap": false, "labelFont": "Liberation Serif", "tickSize": -16, "labelPadding": 49, "labelBaseline": "alphabetic", "title": "Epoch", "titleY": 66, "titleBaseline": "alphabetic"}},
     "y": {"field": "v", "type": "quantitative", "scale": {"domain": [0.68718, 0.70643], "nice": false, "zero": false}, "axis": {"orient": "left", "values": [0.69,0.695,0.7,0.705], "format": ".3f", "labelOverlap": false, "labelFont": "Liberation Serif", "tickSize": -16, "labelPadding": 28, "labelBaseline": "middle", "title": "Loss", "titleAngle": -90, "titleX": -92, "titleY": -1, "titleAlign": "right", "titleBaseline": "alphabetic"}},
     "color": {"datum": "Training", "type": "nominal", "scale": {"domain": ["Training", "Validation", "Best epoch"], "range": ["#FFA500", "#0000FF", "#808080"]}, "legend": {"title": null, "orient": "none", "legendX": 39, "legendY": 21, "symbolType": "M-2,0H2", "symbolSize": 900, "symbolStrokeWidth": 2.2, "labelOffset": 22, "rowPadding": 1.5, "padding": 0, "labelFontSize": 29, "labelFont": "Liberation Serif"}},
     "strokeDash": {"datum": "Training", "type": "nominal", "scale": {"domain": ["Training", "Validation", "Best epoch"], "range": [[1,0],[1,0],[8,4]]}, "legend": {"title": null, "orient": "none", "legendX": 39, "legendY": 21, "symbolType": "M-2,0H2", "symbolSize": 900, "symbolStrokeWidth": 2.2, "labelOffset": 22, "rowPadding": 1.5, "padding": 0, "labelFontSize": 29, "labelFont": "Liberation Serif"}}
    }},
   {"data": {"name": "p2v"}, "mark": {"type": "line", "strokeWidth": 2.2, "strokeJoin": "round"},
    "encoding": {"x": {"field": "e", "type": "quantitative"}, "y": {"field": "v", "type": "quantitative"}, "color": {"datum": "Validation", "type": "nominal"}, "strokeDash": {"datum": "Validation", "type": "nominal"}}},
   {"data": {"values": [{"e": 9}]}, "mark": {"type": "rule", "strokeWidth": 2.2},
    "encoding": {"x": {"field": "e", "type": "quantitative"}, "color": {"datum": "Best epoch", "type": "nominal"}, "strokeDash": {"datum": "Best epoch", "type": "nominal"}}}
  ]},
  {"data": {"values": [{"e": 0, "v": 0.695}]}, "mark": {"type": "point", "opacity": 0},
   "encoding": {
    "x": {"field": "e", "type": "quantitative", "scale": {"domain": [-10.06, 218.96], "nice": false, "zero": false}, "axis": {"orient": "top", "values": [0,50,100,150,200], "labels": false, "title": null, "tickSize": -16}},
    "y": {"field": "v", "type": "quantitative", "scale": {"domain": [0.68718, 0.70643], "nice": false, "zero": false}, "axis": {"orient": "right", "values": [0.69,0.695,0.7,0.705], "labels": false, "title": null, "tickSize": -16}}}},
  {"data": {"values": [{"e": 0, "v": 0.695}]}, "mark": {"type": "point", "opacity": 0},
   "encoding": {
    "x": {"field": "e", "type": "quantitative", "scale": {"domain": [-10.06, 218.96], "nice": false, "zero": false}, "axis": {"orient": "bottom", "values": [-10,10,20,30,40,60,70,80,90,110,120,130,140,160,170,180,190,210], "labels": false, "title": null, "tickSize": -7}},
    "y": {"field": "v", "type": "quantitative", "scale": {"domain": [0.68718, 0.70643], "nice": false, "zero": false}, "axis": {"orient": "left", "values": [0.688,0.689,0.691,0.692,0.693,0.694,0.696,0.697,0.698,0.699,0.701,0.702,0.703,0.704,0.706], "labels": false, "title": null, "tickSize": -7}}}},
  {"data": {"values": [{"e": 0, "v": 0.695}]}, "mark": {"type": "point", "opacity": 0},
   "encoding": {
    "x": {"field": "e", "type": "quantitative", "scale": {"domain": [-10.06, 218.96], "nice": false, "zero": false}, "axis": {"orient": "top", "values": [-10,10,20,30,40,60,70,80,90,110,120,130,140,160,170,180,190,210], "labels": false, "title": null, "tickSize": -7}},
    "y": {"field": "v", "type": "quantitative", "scale": {"domain": [0.68718, 0.70643], "nice": false, "zero": false}, "axis": {"orient": "right", "values": [0.688,0.689,0.691,0.692,0.693,0.694,0.696,0.697,0.698,0.699,0.701,0.702,0.703,0.704,0.706], "labels": false, "title": null, "tickSize": -7}}}}
 ],
 "resolve": {"axis": {"x": "independent", "y": "independent"}}
},
{
 "width": 593, "height": 442,
 "layer": [
  {"layer": [
   {"data": {"name": "p3t"}, "mark": {"type": "line", "strokeWidth": 2.2, "strokeJoin": "round"},
    "encoding": {
     "x": {"field": "e", "type": "quantitative", "scale": {"domain": [-10.3, 216], "nice": false, "zero": false}, "axis": {"orient": "bottom", "values": [0,50,100,150,200], "format": "d", "labelOverlap": false, "labelFont": "Liberation Serif", "tickSize": -16, "labelPadding": 49, "labelBaseline": "alphabetic", "title": "Epoch", "titleY": 66, "titleBaseline": "alphabetic"}},
     "y": {"field": "v", "type": "quantitative", "scale": {"domain": [0.6877, 0.69712], "nice": false, "zero": false}, "axis": {"orient": "left", "values": [0.688,0.69,0.692,0.694,0.696], "format": ".3f", "labelOverlap": false, "labelFont": "Liberation Serif", "tickSize": -16, "labelPadding": 28, "labelBaseline": "middle", "title": "Loss", "titleAngle": -90, "titleX": -92, "titleY": -1, "titleAlign": "right", "titleBaseline": "alphabetic"}},
     "color": {"datum": "Training", "type": "nominal", "scale": {"domain": ["Training", "Validation", "Best epoch"], "range": ["#FFA500", "#0000FF", "#808080"]}, "legend": {"title": null, "orient": "none", "legendX": 384, "legendY": 169, "symbolType": "M-2,0H2", "symbolSize": 900, "symbolStrokeWidth": 2.2, "labelOffset": 22, "rowPadding": 1.5, "padding": 0, "labelFontSize": 29, "labelFont": "Liberation Serif"}},
     "strokeDash": {"datum": "Training", "type": "nominal", "scale": {"domain": ["Training", "Validation", "Best epoch"], "range": [[1,0],[1,0],[8,4]]}, "legend": {"title": null, "orient": "none", "legendX": 384, "legendY": 169, "symbolType": "M-2,0H2", "symbolSize": 900, "symbolStrokeWidth": 2.2, "labelOffset": 22, "rowPadding": 1.5, "padding": 0, "labelFontSize": 29, "labelFont": "Liberation Serif"}}
    }},
   {"data": {"name": "p3v"}, "mark": {"type": "line", "strokeWidth": 2.2, "strokeJoin": "round"},
    "encoding": {"x": {"field": "e", "type": "quantitative"}, "y": {"field": "v", "type": "quantitative"}, "color": {"datum": "Validation", "type": "nominal"}, "strokeDash": {"datum": "Validation", "type": "nominal"}}},
   {"data": {"values": [{"e": 6}]}, "mark": {"type": "rule", "strokeWidth": 2.2},
    "encoding": {"x": {"field": "e", "type": "quantitative"}, "color": {"datum": "Best epoch", "type": "nominal"}, "strokeDash": {"datum": "Best epoch", "type": "nominal"}}}
  ]},
  {"data": {"values": [{"e": 0, "v": 0.692}]}, "mark": {"type": "point", "opacity": 0},
   "encoding": {
    "x": {"field": "e", "type": "quantitative", "scale": {"domain": [-10.3, 216], "nice": false, "zero": false}, "axis": {"orient": "top", "values": [0,50,100,150,200], "labels": false, "title": null, "tickSize": -16}},
    "y": {"field": "v", "type": "quantitative", "scale": {"domain": [0.6877, 0.69712], "nice": false, "zero": false}, "axis": {"orient": "right", "values": [0.688,0.69,0.692,0.694,0.696], "labels": false, "title": null, "tickSize": -16}}}},
  {"data": {"values": [{"e": 0, "v": 0.692}]}, "mark": {"type": "point", "opacity": 0},
   "encoding": {
    "x": {"field": "e", "type": "quantitative", "scale": {"domain": [-10.3, 216], "nice": false, "zero": false}, "axis": {"orient": "bottom", "values": [-10,10,20,30,40,60,70,80,90,110,120,130,140,160,170,180,190,210], "labels": false, "title": null, "tickSize": -7}},
    "y": {"field": "v", "type": "quantitative", "scale": {"domain": [0.6877, 0.69712], "nice": false, "zero": false}, "axis": {"orient": "left", "values": [0.6885,0.689,0.6895,0.6905,0.691,0.6915,0.6925,0.693,0.6935,0.6945,0.695,0.6955,0.6965,0.697], "labels": false, "title": null, "tickSize": -7}}}},
  {"data": {"values": [{"e": 0, "v": 0.692}]}, "mark": {"type": "point", "opacity": 0},
   "encoding": {
    "x": {"field": "e", "type": "quantitative", "scale": {"domain": [-10.3, 216], "nice": false, "zero": false}, "axis": {"orient": "top", "values": [-10,10,20,30,40,60,70,80,90,110,120,130,140,160,170,180,190,210], "labels": false, "title": null, "tickSize": -7}},
    "y": {"field": "v", "type": "quantitative", "scale": {"domain": [0.6877, 0.69712], "nice": false, "zero": false}, "axis": {"orient": "right", "values": [0.6885,0.689,0.6895,0.6905,0.691,0.6915,0.6925,0.693,0.6935,0.6945,0.695,0.6955,0.6965,0.697], "labels": false, "title": null, "tickSize": -7}}}}
 ],
 "resolve": {"axis": {"x": "independent", "y": "independent"}}
},
{
 "width": 593, "height": 442,
 "layer": [
  {"layer": [
   {"data": {"name": "p4t"}, "mark": {"type": "line", "strokeWidth": 2.2, "strokeJoin": "round"},
    "encoding": {
     "x": {"field": "e", "type": "quantitative", "scale": {"domain": [-10.77, 234.4], "nice": false, "zero": false}, "axis": {"orient": "bottom", "values": [0,50,100,150,200], "format": "d", "labelOverlap": false, "labelFont": "Liberation Serif", "tickSize": -16, "labelPadding": 49, "labelBaseline": "alphabetic", "title": "Epoch", "titleY": 66, "titleBaseline": "alphabetic"}},
     "y": {"field": "v", "type": "quantitative", "scale": {"domain": [0.65915, 0.66471], "nice": false, "zero": false}, "axis": {"orient": "left", "values": [0.66,0.661,0.662,0.663,0.664], "format": ".3f", "labelOverlap": false, "labelFont": "Liberation Serif", "tickSize": -16, "labelPadding": 28, "labelBaseline": "middle", "title": "Loss", "titleAngle": -90, "titleX": -92, "titleY": -1, "titleAlign": "right", "titleBaseline": "alphabetic"}},
     "color": {"datum": "Training", "type": "nominal", "scale": {"domain": ["Training", "Validation", "Best epoch"], "range": ["#FFA500", "#0000FF", "#808080"]}, "legend": {"title": null, "orient": "none", "legendX": 383, "legendY": 20, "symbolType": "M-2,0H2", "symbolSize": 900, "symbolStrokeWidth": 2.2, "labelOffset": 22, "rowPadding": 1.5, "padding": 0, "labelFontSize": 29, "labelFont": "Liberation Serif"}},
     "strokeDash": {"datum": "Training", "type": "nominal", "scale": {"domain": ["Training", "Validation", "Best epoch"], "range": [[1,0],[1,0],[8,4]]}, "legend": {"title": null, "orient": "none", "legendX": 383, "legendY": 20, "symbolType": "M-2,0H2", "symbolSize": 900, "symbolStrokeWidth": 2.2, "labelOffset": 22, "rowPadding": 1.5, "padding": 0, "labelFontSize": 29, "labelFont": "Liberation Serif"}}
    }},
   {"data": {"name": "p4v"}, "mark": {"type": "line", "strokeWidth": 2.2, "strokeJoin": "round"},
    "encoding": {"x": {"field": "e", "type": "quantitative"}, "y": {"field": "v", "type": "quantitative"}, "color": {"datum": "Validation", "type": "nominal"}, "strokeDash": {"datum": "Validation", "type": "nominal"}}},
   {"data": {"values": [{"e": 24}]}, "mark": {"type": "rule", "strokeWidth": 2.2},
    "encoding": {"x": {"field": "e", "type": "quantitative"}, "color": {"datum": "Best epoch", "type": "nominal"}, "strokeDash": {"datum": "Best epoch", "type": "nominal"}}}
  ]},
  {"data": {"values": [{"e": 0, "v": 0.662}]}, "mark": {"type": "point", "opacity": 0},
   "encoding": {
    "x": {"field": "e", "type": "quantitative", "scale": {"domain": [-10.77, 234.4], "nice": false, "zero": false}, "axis": {"orient": "top", "values": [0,50,100,150,200], "labels": false, "title": null, "tickSize": -16}},
    "y": {"field": "v", "type": "quantitative", "scale": {"domain": [0.65915, 0.66471], "nice": false, "zero": false}, "axis": {"orient": "right", "values": [0.66,0.661,0.662,0.663,0.664], "labels": false, "title": null, "tickSize": -16}}}},
  {"data": {"values": [{"e": 0, "v": 0.662}]}, "mark": {"type": "point", "opacity": 0},
   "encoding": {
    "x": {"field": "e", "type": "quantitative", "scale": {"domain": [-10.77, 234.4], "nice": false, "zero": false}, "axis": {"orient": "bottom", "values": [-10,10,20,30,40,60,70,80,90,110,120,130,140,160,170,180,190,210,220,230], "labels": false, "title": null, "tickSize": -7}},
    "y": {"field": "v", "type": "quantitative", "scale": {"domain": [0.65915, 0.66471], "nice": false, "zero": false}, "axis": {"orient": "left", "values": [0.6592,0.6594,0.6596,0.6598,0.6602,0.6604,0.6606,0.6608,0.6612,0.6614,0.6616,0.6618,0.6622,0.6624,0.6626,0.6628,0.6632,0.6634,0.6636,0.6638,0.6642,0.6644,0.6646], "labels": false, "title": null, "tickSize": -7}}}},
  {"data": {"values": [{"e": 0, "v": 0.662}]}, "mark": {"type": "point", "opacity": 0},
   "encoding": {
    "x": {"field": "e", "type": "quantitative", "scale": {"domain": [-10.77, 234.4], "nice": false, "zero": false}, "axis": {"orient": "top", "values": [-10,10,20,30,40,60,70,80,90,110,120,130,140,160,170,180,190,210,220,230], "labels": false, "title": null, "tickSize": -7}},
    "y": {"field": "v", "type": "quantitative", "scale": {"domain": [0.65915, 0.66471], "nice": false, "zero": false}, "axis": {"orient": "right", "values": [0.6592,0.6594,0.6596,0.6598,0.6602,0.6604,0.6606,0.6608,0.6612,0.6614,0.6616,0.6618,0.6622,0.6624,0.6626,0.6628,0.6632,0.6634,0.6636,0.6638,0.6642,0.6644,0.6646], "labels": false, "title": null, "tickSize": -7}}}}
 ],
 "resolve": {"axis": {"x": "independent", "y": "independent"}}
}
]
}
